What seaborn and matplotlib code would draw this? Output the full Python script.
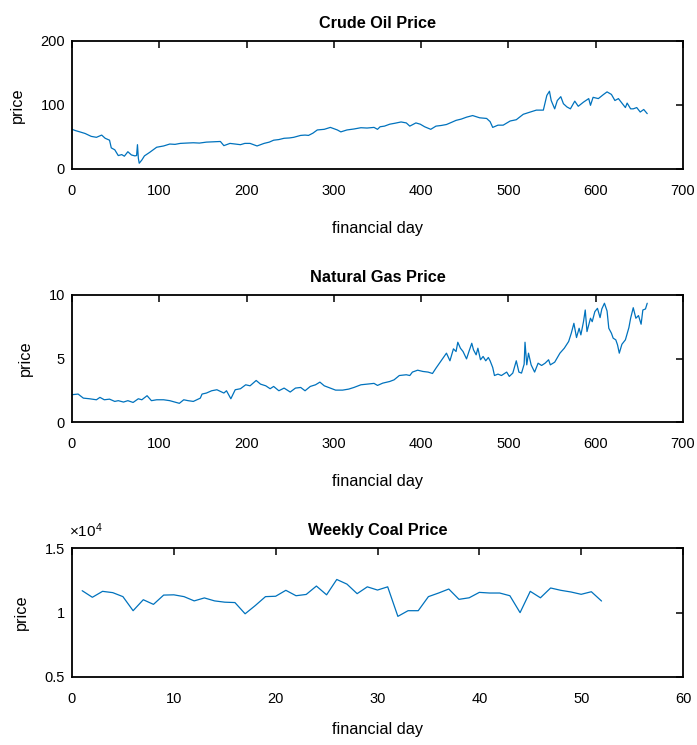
import matplotlib
matplotlib.use("Agg")
import matplotlib.pyplot as plt
import seaborn as sns
import pandas as pd
from matplotlib.ticker import FuncFormatter

# ---- crude oil price by financial day ----
oil_day = [0, 4, 9, 15, 22, 28, 34, 38, 43, 45, 49, 53, 57, 60, 64, 68, 72, 74, 75,
           76, 77, 80, 83, 89, 97, 105, 112, 118, 124, 131, 139, 146, 154, 162, 170,
           174, 181, 187, 193, 198, 204, 212, 220, 226, 231, 237, 243, 249, 254, 262,
           267, 271, 276, 281, 289, 296, 300, 304, 308, 315, 323, 331, 338, 346, 350,
           353, 358, 364, 370, 377, 383, 387, 394, 399, 404, 411, 417, 423, 429, 435,
           440, 446, 452, 459, 467, 475, 479, 482, 488, 494, 502, 509, 517, 525, 532,
           540, 544, 547, 549, 553, 556, 560, 563, 567, 571, 576, 580, 586, 592, 594,
           597, 603, 609, 613, 618, 622, 626, 630, 634, 636, 640, 643, 647, 651, 655,
           659]
oil_price = [62, 60, 58, 55.5, 51, 49.5, 53, 48, 45, 33, 30, 21, 22.5, 20, 27, 22,
             20.5, 21, 38, 17, 9, 14, 20.5, 26, 34, 36, 39, 38.5, 40, 40.5, 41, 40.5,
             42, 42.5, 43, 36.5, 40, 39, 38, 40, 40, 36, 40, 42, 45, 46, 48, 48.5,
             49.5, 52.5, 53, 52.5, 56, 61, 62, 65, 63, 61, 58, 61, 62.5, 64.5, 64, 65,
             62, 66, 67, 70, 71.5, 73.5, 72, 67, 72, 70, 66, 62, 67, 68, 69.5, 73, 76,
             78, 81, 83.5, 80, 79, 74, 65, 68.5, 68.5, 75, 77, 85.5, 89, 92, 92, 115,
             121.5, 107, 94, 107, 113, 102, 97, 94, 106, 98, 104.5, 110, 99.5, 112,
             110, 116.5, 120.5, 116.5, 107, 110, 103, 96, 103, 94, 94, 96, 89, 93,
             86.5]

# ---- natural gas price by financial day ----
gas_day = [0, 7, 13, 20, 28, 32, 37, 43, 49, 53, 59, 64, 70, 76, 80, 86, 91, 97, 105,
           112, 118, 123, 128, 133, 139, 147, 149, 154, 160, 166, 170, 174, 177, 182,
           187, 193, 199, 204, 211, 216, 222, 227, 231, 237, 243, 250, 256, 262, 267,
           273, 279, 284, 289, 296, 302, 310, 317, 323, 331, 338, 346, 350, 356, 364,
           369, 375, 383, 387, 390, 396, 402, 408, 413, 417, 421, 425, 429, 433, 437,
           440, 442, 445, 448, 452, 455, 458, 460, 463, 465, 468, 471, 474, 477, 479,
           482, 484, 488, 492, 498, 501, 505, 509, 512, 515, 518, 519, 521, 523, 526,
           530, 534, 538, 542, 546, 548, 553, 559, 564, 569, 572, 575, 578, 581, 583,
           586, 588, 590, 594, 596, 599, 602, 605, 607, 610, 613, 615, 618, 620, 623,
           625, 627, 630, 634, 638, 640, 643, 646, 649, 652, 654, 657, 659]
gas_price = [2.15, 2.2, 1.88, 1.83, 1.75, 1.94, 1.75, 1.8, 1.62, 1.68, 1.57, 1.68,
             1.54, 1.83, 1.75, 2.07, 1.68, 1.75, 1.75, 1.68, 1.57, 1.47, 1.75, 1.68,
             1.62, 1.88, 2.2, 2.28, 2.46, 2.54, 2.41, 2.28, 2.46, 1.83, 2.54, 2.62,
             2.93, 2.85, 3.27, 2.98, 2.85, 2.62, 2.8, 2.46, 2.67, 2.36, 2.67, 2.72,
             2.46, 2.8, 2.93, 3.14, 2.85, 2.67, 2.51, 2.51, 2.59, 2.72, 2.93, 2.98,
             3.04, 2.88, 3.06, 3.19, 3.32, 3.66, 3.72, 3.66, 3.93, 4.08, 3.98, 3.93,
             3.82, 4.24, 4.63, 5.03, 5.42, 4.82, 5.76, 5.55, 6.28, 5.81, 5.55, 4.97,
             5.6, 6.2, 5.68, 5.29, 5.81, 4.9, 5.16, 4.82, 5.08, 4.82, 4.29, 3.66,
             3.77, 3.66, 3.93, 3.59, 3.85, 4.82, 3.93, 3.85, 4.55, 6.28, 4.5, 5.42,
             4.5, 3.93, 4.63, 4.45, 4.63, 4.9, 4.5, 4.71, 5.42, 5.81, 6.34, 6.99,
             7.77, 6.65, 7.38, 6.86, 7.9, 8.82, 7.12, 8.17, 7.9, 8.69, 8.95, 8.22,
             8.9, 9.35, 8.74, 7.38, 6.99, 6.6, 6.47, 6.07, 5.42, 6.12, 6.47, 7.43,
             8.17, 9.0, 8.17, 8.38, 7.7, 8.82, 8.9, 9.35]

# ---- weekly coal price ----
coal_week = list(range(1, 53))
coal_price = [11690, 11180, 11640, 11540, 11230, 10140, 10990, 10630, 11350, 11370,
              11230, 10900, 11130, 10900, 10800, 10770, 9900, 10540, 11230, 11260,
              11720, 11300, 11400, 12050, 11370, 12560, 12200, 11460, 11990, 11740,
              11990, 9700, 10140, 10140, 11230, 11510, 11820, 11020, 11140, 11560,
              11510, 11510, 11300, 9990, 11640, 11140, 11900, 11720, 11590, 11410,
              11610, 10890]

titles = ["Crude Oil Price", "Natural Gas Price", "Weekly Coal Price"]
oil_yticks = [0, 100, 200]
gas_yticks = [0, 5, 10]
coal_yticks = [5000, 10000, 15000]
day_xticks = list(range(0, 701, 100))
week_xticks = list(range(0, 61, 10))

sns.set_style("white")
plt.rcParams["font.family"] = ["Liberation Sans", "DejaVu Sans"]
plt.rcParams["text.color"] = "black"
plt.rcParams["axes.labelcolor"] = "black"

LINE = "#0072BD"
TICK_FS = 10.5
LABEL_FS = 11.7
TITLE_FS = 11.7

fig = plt.figure(figsize=(6.97, 7.45), dpi=100)
W, H = 697.0, 745.0
left, width = 72 / W, 611 / W
boxes = [(41, 169), (295, 422), (548, 677)]
axes = [fig.add_axes([left, 1 - b / H, width, (b - t) / H]) for t, b in boxes]

series = [
    (oil_day, oil_price, (0, 700), (0, 200), day_xticks, oil_yticks, 17),
    (gas_day, gas_price, (0, 700), (0, 10), day_xticks, gas_yticks, 17),
    (coal_week, coal_price, (0, 60), (5000, 15000), week_xticks, coal_yticks, 12),
]

for ax, title, (xs, ys, xl, yl, xt, yt, xpad) in zip(axes, titles, series):
    df = pd.DataFrame({"x": xs, "y": ys})
    sns.lineplot(data=df, x="x", y="y", ax=ax, color=LINE, linewidth=0.9,
                 estimator=None, sort=False)
    ax.set_xlim(*xl)
    ax.set_ylim(*yl)
    ax.set_xticks(xt)
    ax.set_yticks(yt)
    ax.tick_params(direction="in", top=True, right=True, length=5, width=1.1,
                   labelsize=TICK_FS, colors="black")
    ax.tick_params(axis="x", pad=10.5)
    ax.tick_params(axis="y", pad=5)
    for sp in ax.spines.values():
        sp.set_visible(True)
        sp.set_linewidth(1.3)
        sp.set_color("black")
    ax.set_xlabel("financial day", fontsize=LABEL_FS, labelpad=xpad)
    ax.set_ylabel("price", fontsize=LABEL_FS, labelpad=11)
    ax.set_title(title, fontsize=TITLE_FS, fontweight="bold", pad=9)

axes[2].yaxis.set_major_formatter(FuncFormatter(lambda v, p: f"{v / 1e4:g}"))
axes[2].annotate(r"$\mathregular{\times10^{4}}$", xy=(0, 1), xycoords="axes fraction",
                 xytext=(-2, 8), textcoords="offset points", ha="left",
                 va="baseline", fontsize=TICK_FS + 0.5)

fig.savefig("out.png", dpi=100)
